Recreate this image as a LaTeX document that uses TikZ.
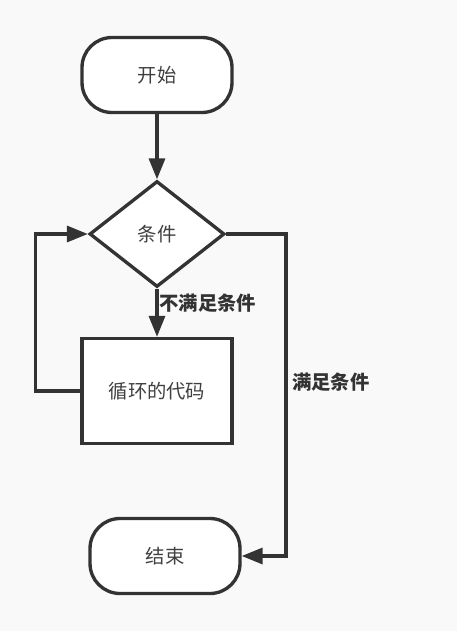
\documentclass[tikz,border=0pt]{standalone}
\usepackage{fontspec}
\setmainfont{Noto Sans CJK SC}
\usetikzlibrary{shapes.geometric,arrows.meta,positioning}
\definecolor{linegray}{HTML}{333333}
\definecolor{textgray}{HTML}{404040}
\definecolor{paper}{HTML}{F9F9F9}

\begin{document}
\begin{tikzpicture}[
    x=0.02cm, y=-0.02cm,
    every node/.style={font=\fontsize{11pt}{13pt}\selectfont, text=textgray, align=center},
    terminal/.style={rectangle, draw=linegray, fill=white, line width=1.9pt, rounded corners=0.6cm, minimum width=3cm, minimum height=1.5cm},
    decision/.style={diamond, draw=linegray, fill=white, line width=1.9pt, minimum width=2.7cm, minimum height=2.12cm, inner sep=0pt},
    process/.style={rectangle, draw=linegray, fill=white, line width=1.9pt, minimum width=3cm, minimum height=2.1cm},
    arrow/.style={-{Triangle[length=0.42cm, width=0.32cm]}, draw=linegray, line width=1.9pt},
    edgetext/.style={font=\bfseries\fontsize{11pt}{13pt}\selectfont, text=linegray, inner sep=0pt, anchor=west}
]
    \fill[paper] (0,0) rectangle (457,631);
    \useasboundingbox (0,0) rectangle (457,631);

    \node (start) [terminal] at (157,75) {开始};
    \node (cond) [decision] at (157,234) {条件};
    \node (code) [process] at (157,391) {循环的代码};
    \node (stop) [terminal] at (165,556) {结束};

    \draw [arrow] (start) -- (cond);
    \draw [arrow] (cond) -- node[edgetext, pos=0.31, xshift=0.5pt] {不满足条件} (code);
    \draw [arrow] (code.west) -- ++(-45,0) |- (cond.west);
    \draw [arrow] (cond.east) -- ++(60,0) |- node[edgetext, pos=0.23, xshift=2.5pt] {满足条件} (stop.east);
\end{tikzpicture}
\end{document}
